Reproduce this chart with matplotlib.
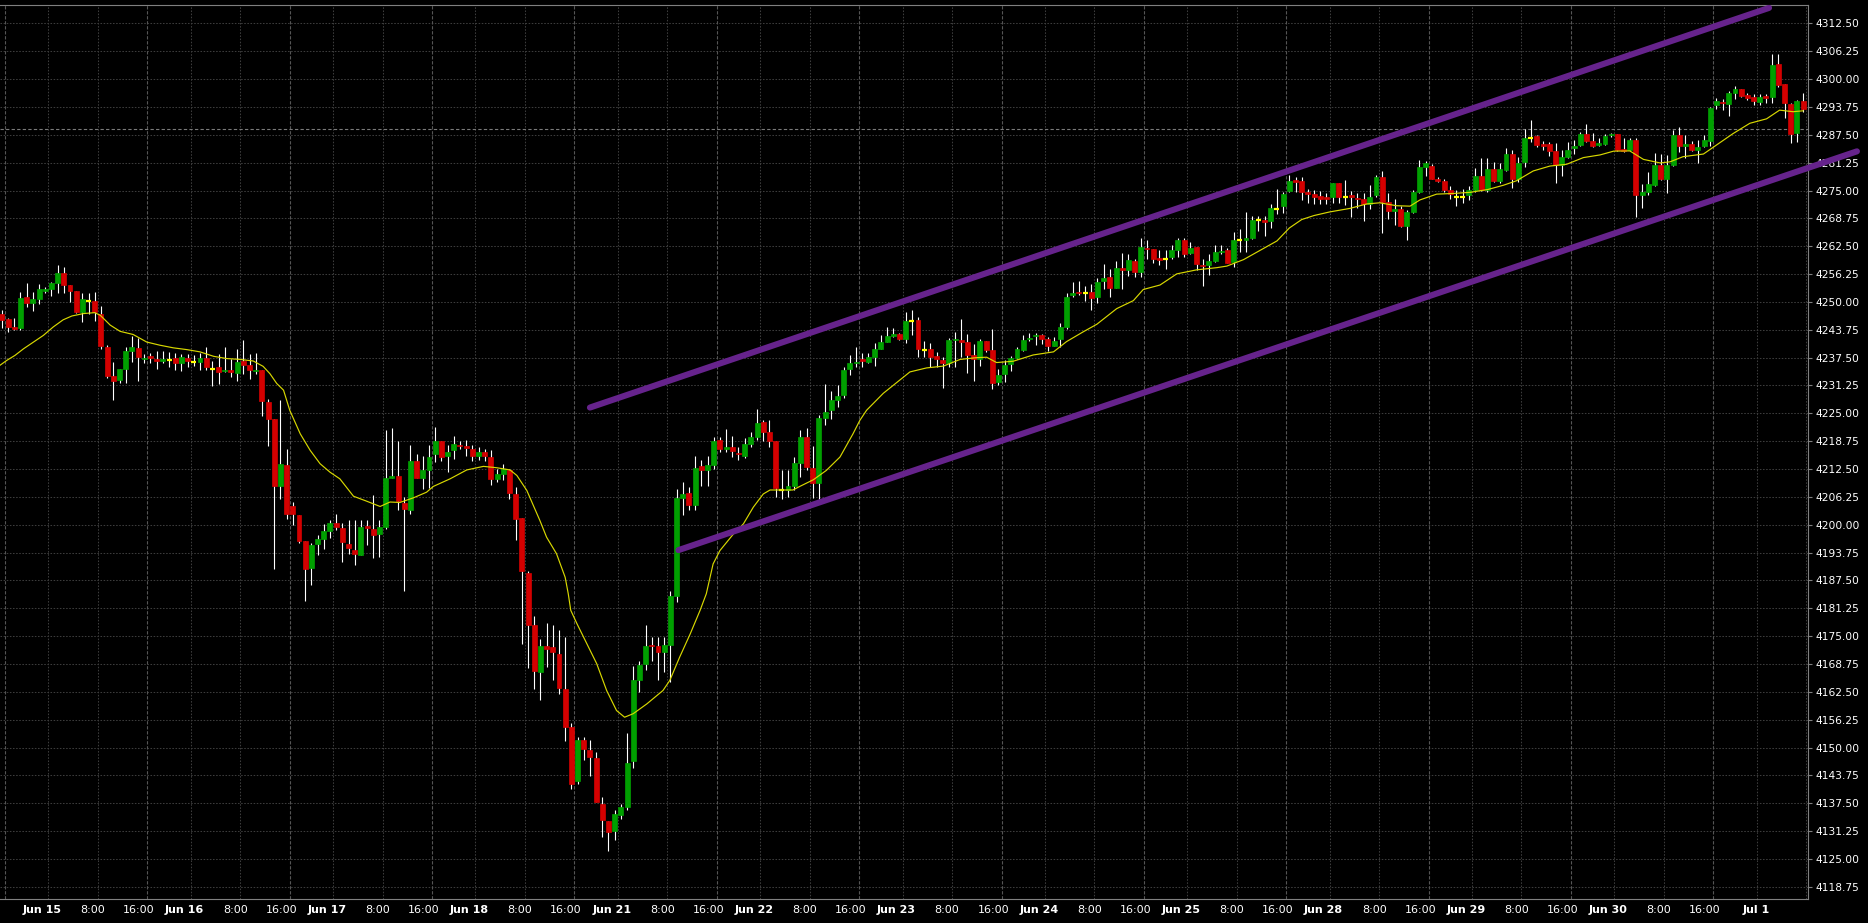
import numpy as np
import matplotlib
matplotlib.use("Agg")
import matplotlib.pyplot as plt

# hourly candles, bar 0 is the last hour of Jun 14, then 23 bars per trading day
opens = [
    4247.2, 4246.1, 4244.3, 4244.2, 4251.1, 4249.8, 4250.6, 4252.5, 4252.9, 4254.3,
    4256.5, 4253.8, 4252.5, 4247.8, 4250.3, 4250.3, 4247.3, 4240.0, 4233.4, 4232.4,
    4234.9, 4238.9, 4239.7, 4237.1, 4237.8, 4237.2, 4236.8, 4237.0, 4237.4, 4236.3,
    4237.4, 4236.5, 4236.5, 4237.4, 4235.0, 4235.4, 4234.5, 4234.8, 4234.1, 4236.7,
    4235.9, 4234.5, 4234.7, 4227.5, 4223.7, 4208.7, 4213.3, 4204.1, 4202.1, 4196.4,
    4190.3, 4195.6, 4196.9, 4198.7, 4200.3, 4199.2, 4195.7, 4194.4, 4193.3, 4199.7,
    4199.0, 4198.0, 4199.5, 4210.6, 4210.9, 4204.9, 4203.4, 4214.2, 4210.4, 4212.3,
    4215.9, 4218.7, 4215.4, 4216.7, 4218.0, 4217.6, 4217.0, 4215.5, 4216.4, 4215.3,
    4210.2, 4211.3, 4212.2, 4206.9, 4201.5, 4189.2, 4177.4, 4166.9, 4172.8, 4172.5,
    4171.0, 4163.2, 4154.6, 4142.5, 4151.6, 4149.5, 4147.7, 4137.4, 4133.6, 4131.2,
    4134.9, 4136.6, 4146.9, 4165.2, 4168.8, 4173.1, 4172.8, 4171.4, 4173.1, 4183.9,
    4206.0, 4207.2, 4204.5, 4213.1, 4212.3, 4213.5, 4219.1, 4216.9, 4217.4, 4216.1,
    4215.5, 4218.2, 4219.8, 4223.0, 4220.8, 4218.7, 4207.7, 4207.7, 4208.6, 4213.8,
    4219.8, 4212.8, 4209.3, 4223.9, 4225.8, 4228.0, 4229.2, 4234.9, 4236.2, 4237.3,
    4236.6, 4237.7, 4239.4, 4241.1, 4242.4, 4242.8, 4241.7, 4245.8, 4245.9, 4239.2,
    4239.4, 4237.9, 4237.0, 4236.2, 4241.4, 4241.5, 4241.1, 4238.2, 4237.1, 4241.3,
    4239.3, 4232.1, 4233.9, 4236.0, 4237.5, 4239.3, 4241.6, 4242.3, 4242.6, 4241.7,
    4240.2, 4241.6, 4244.3, 4251.6, 4252.2, 4252.0, 4252.2, 4251.2, 4254.8, 4255.6,
    4253.2, 4257.7, 4257.1, 4259.3, 4256.7, 4262.1, 4261.9, 4259.8, 4259.7, 4260.2,
    4261.6, 4263.9, 4261.0, 4262.3, 4258.4, 4258.2, 4259.1, 4261.3, 4261.7, 4258.9,
    4263.8, 4263.8, 4264.4, 4268.3, 4268.4, 4268.1, 4270.9, 4271.5, 4274.8, 4277.3,
    4277.1, 4274.6, 4274.2, 4273.8, 4273.5, 4273.6, 4276.7, 4273.6, 4274.0, 4273.4,
    4273.1, 4272.0, 4273.9, 4278.0, 4272.4, 4270.4, 4270.8, 4267.1, 4270.3, 4274.7,
    4280.4, 4280.5, 4277.5, 4277.1, 4275.1, 4273.6, 4273.6, 4274.0, 4275.1, 4278.3,
    4275.1, 4279.8, 4277.1, 4279.6, 4283.2, 4277.6, 4281.3, 4286.8, 4287.2, 4285.4,
    4285.4, 4283.9, 4280.7, 4282.6, 4284.6, 4285.2, 4287.8, 4286.1, 4285.3, 4285.4,
    4287.4, 4287.7, 4284.3, 4284.1, 4286.3, 4274.0, 4274.6, 4276.2, 4280.7, 4277.6,
    4280.7, 4287.5, 4285.1, 4285.4, 4284.1, 4285.0, 4286.2, 4294.2, 4294.9, 4294.4,
    4296.8, 4297.8, 4296.4, 4296.0, 4294.9, 4296.2, 4296.1, 4303.4, 4298.9, 4294.4,
    4288.0, 4295.1,
]
highs = [
    4248.3, 4246.5, 4246.3, 4252.3, 4254.3, 4252.3, 4254.0, 4253.4, 4254.5, 4258.3,
    4257.9, 4253.8, 4252.5, 4252.0, 4252.0, 4252.3, 4249.0, 4240.3, 4236.5, 4235.0,
    4239.9, 4242.3, 4241.9, 4238.4, 4238.5, 4239.0, 4239.0, 4238.8, 4238.5, 4238.4,
    4238.4, 4238.0, 4238.5, 4240.0, 4236.8, 4238.3, 4239.9, 4237.3, 4239.5, 4241.4,
    4238.4, 4238.5, 4234.7, 4228.3, 4223.7, 4227.9, 4216.9, 4205.1, 4202.1, 4196.4,
    4196.0, 4197.8, 4200.1, 4201.1, 4202.3, 4200.3, 4201.1, 4201.1, 4201.1, 4201.0,
    4206.6, 4201.0, 4221.3, 4221.6, 4218.8, 4206.2, 4218.0, 4215.8, 4215.5, 4218.0,
    4221.9, 4218.7, 4217.8, 4219.9, 4218.9, 4219.1, 4218.0, 4217.4, 4217.0, 4216.7,
    4212.6, 4213.7, 4212.6, 4208.4, 4201.5, 4189.7, 4179.6, 4174.4, 4177.9, 4177.4,
    4176.4, 4174.8, 4155.5, 4152.3, 4152.3, 4151.6, 4149.0, 4138.9, 4133.6, 4135.9,
    4137.4, 4153.2, 4168.4, 4169.5, 4177.4, 4174.8, 4174.8, 4174.8, 4185.1, 4208.1,
    4209.6, 4208.4, 4215.5, 4214.6, 4215.5, 4219.8, 4219.7, 4221.4, 4220.0, 4217.4,
    4219.5, 4220.8, 4226.0, 4223.4, 4223.5, 4218.7, 4212.3, 4212.3, 4215.3, 4221.2,
    4221.7, 4217.6, 4224.7, 4231.6, 4230.1, 4231.3, 4235.5, 4238.1, 4240.0, 4238.5,
    4238.5, 4240.7, 4242.6, 4244.4, 4244.2, 4243.1, 4247.8, 4248.2, 4246.7, 4241.3,
    4240.7, 4238.8, 4237.7, 4242.0, 4243.3, 4246.2, 4242.7, 4240.5, 4241.6, 4241.3,
    4244.0, 4235.0, 4236.9, 4237.8, 4239.9, 4242.6, 4243.1, 4243.1, 4242.8, 4242.2,
    4242.1, 4245.2, 4252.0, 4254.4, 4254.6, 4253.5, 4254.1, 4255.3, 4258.5, 4257.4,
    4259.1, 4261.0, 4260.8, 4259.7, 4264.3, 4263.9, 4261.9, 4261.6, 4261.7, 4262.7,
    4264.3, 4264.3, 4263.4, 4262.3, 4259.7, 4260.8, 4262.7, 4262.8, 4262.1, 4265.8,
    4266.4, 4270.1, 4269.4, 4269.4, 4269.4, 4272.0, 4275.4, 4274.6, 4278.4, 4278.0,
    4278.0, 4275.4, 4275.1, 4274.8, 4274.4, 4276.7, 4276.7, 4277.4, 4274.8, 4274.5,
    4274.4, 4276.2, 4278.5, 4279.4, 4274.5, 4273.2, 4271.5, 4270.6, 4275.1, 4281.8,
    4281.7, 4280.9, 4278.1, 4277.7, 4276.1, 4275.1, 4275.3, 4276.1, 4280.1, 4282.4,
    4282.2, 4281.5, 4281.2, 4284.5, 4284.1, 4282.6, 4288.9, 4290.8, 4287.5, 4286.2,
    4286.0, 4285.7, 4284.1, 4286.0, 4286.3, 4288.2, 4289.9, 4288.0, 4286.7, 4287.7,
    4288.0, 4287.8, 4286.7, 4286.9, 4286.9, 4276.4, 4279.1, 4283.5, 4283.3, 4283.0,
    4288.7, 4289.2, 4287.5, 4286.2, 4286.3, 4287.5, 4293.7, 4295.8, 4295.5, 4297.4,
    4298.4, 4297.8, 4296.9, 4296.7, 4296.7, 4296.7, 4305.6, 4305.6, 4298.9, 4294.6,
    4295.3, 4296.8,
]
lows = [
    4244.2, 4243.3, 4243.8, 4243.8, 4248.9, 4248.0, 4249.6, 4252.0, 4251.4, 4252.0,
    4251.9, 4250.0, 4247.5, 4245.5, 4247.4, 4245.8, 4239.5, 4233.0, 4227.9, 4231.7,
    4231.7, 4236.5, 4232.3, 4236.2, 4236.4, 4235.0, 4236.3, 4235.4, 4234.7, 4234.5,
    4235.3, 4235.6, 4234.8, 4234.7, 4231.2, 4231.5, 4234.3, 4233.1, 4232.3, 4233.9,
    4232.8, 4233.9, 4224.5, 4217.6, 4190.1, 4205.8, 4201.4, 4199.9, 4196.0, 4182.8,
    4186.5, 4193.3, 4194.6, 4197.1, 4198.8, 4191.6, 4193.5, 4191.0, 4193.1, 4195.4,
    4192.6, 4192.8, 4199.1, 4210.6, 4203.2, 4185.1, 4202.5, 4210.6, 4208.0, 4208.3,
    4214.0, 4214.4, 4211.8, 4214.8, 4217.0, 4215.5, 4214.4, 4214.6, 4214.4, 4209.0,
    4209.6, 4210.0, 4205.8, 4196.6, 4173.3, 4167.9, 4163.2, 4160.7, 4168.0, 4165.2,
    4162.0, 4151.4, 4140.6, 4141.9, 4147.1, 4143.7, 4137.8, 4130.0, 4126.7, 4129.3,
    4134.0, 4135.9, 4145.4, 4162.4, 4167.3, 4169.5, 4165.2, 4166.9, 4164.7, 4182.6,
    4202.1, 4203.4, 4203.2, 4208.8, 4208.7, 4212.6, 4216.3, 4216.4, 4215.3, 4214.6,
    4215.0, 4217.4, 4219.1, 4218.9, 4217.4, 4206.2, 4205.7, 4206.2, 4207.7, 4210.7,
    4212.2, 4206.0, 4205.8, 4222.3, 4223.8, 4226.4, 4228.5, 4233.6, 4235.5, 4235.3,
    4236.2, 4235.7, 4239.4, 4241.1, 4242.2, 4241.5, 4240.9, 4242.6, 4237.6, 4237.6,
    4235.5, 4235.5, 4230.6, 4235.5, 4235.5, 4237.7, 4234.1, 4232.2, 4235.7, 4238.7,
    4230.5, 4231.3, 4232.0, 4234.6, 4237.2, 4239.1, 4241.3, 4240.4, 4240.6, 4239.1,
    4240.1, 4239.9, 4244.0, 4251.1, 4251.5, 4250.3, 4248.1, 4249.8, 4253.0, 4251.2,
    4253.1, 4253.0, 4255.9, 4255.6, 4255.6, 4259.7, 4258.8, 4258.2, 4257.4, 4259.7,
    4260.0, 4260.1, 4260.8, 4257.2, 4253.5, 4256.1, 4258.9, 4260.8, 4258.7, 4257.8,
    4261.2, 4261.3, 4264.2, 4266.0, 4264.9, 4266.5, 4269.8, 4270.0, 4274.7, 4274.7,
    4272.8, 4272.1, 4271.9, 4271.9, 4271.9, 4272.3, 4272.3, 4271.8, 4269.1, 4271.0,
    4268.2, 4270.9, 4273.6, 4265.5, 4268.6, 4267.2, 4266.9, 4263.9, 4270.0, 4274.5,
    4278.3, 4277.5, 4277.0, 4274.7, 4273.2, 4271.5, 4272.3, 4272.9, 4274.7, 4274.9,
    4274.7, 4277.0, 4276.6, 4279.4, 4275.5, 4277.0, 4280.4, 4286.0, 4284.8, 4284.1,
    4282.8, 4276.6, 4278.3, 4282.4, 4283.1, 4285.0, 4286.0, 4284.8, 4285.0, 4285.2,
    4287.1, 4283.9, 4283.7, 4283.9, 4269.1, 4271.0, 4274.0, 4276.1, 4277.4, 4274.4,
    4280.5, 4283.7, 4282.4, 4283.9, 4281.1, 4284.8, 4285.0, 4293.4, 4293.1, 4291.7,
    4295.5, 4296.1, 4295.3, 4294.2, 4294.2, 4294.6, 4294.6, 4298.3, 4291.2, 4285.7,
    4286.0, 4292.7,
]
closes = [
    4246.0, 4244.4, 4243.9, 4250.8, 4249.8, 4250.6, 4252.9, 4252.8, 4254.3, 4256.5,
    4253.8, 4252.5, 4247.8, 4250.6, 4250.3, 4247.8, 4240.1, 4233.4, 4232.3, 4234.9,
    4238.9, 4239.9, 4237.7, 4237.4, 4237.4, 4236.8, 4237.2, 4237.0, 4236.3, 4237.6,
    4236.8, 4236.5, 4237.4, 4235.3, 4235.0, 4234.3, 4234.8, 4234.3, 4236.5, 4235.9,
    4234.7, 4234.8, 4227.8, 4223.7, 4208.7, 4213.6, 4202.5, 4202.5, 4196.4, 4190.1,
    4195.4, 4196.7, 4198.7, 4200.5, 4199.5, 4196.1, 4194.8, 4193.4, 4199.6, 4199.3,
    4197.8, 4199.5, 4210.6, 4210.9, 4205.3, 4203.5, 4214.2, 4210.6, 4212.3, 4215.3,
    4218.8, 4215.2, 4216.4, 4218.2, 4217.6, 4217.2, 4215.4, 4216.4, 4215.4, 4210.2,
    4211.3, 4212.4, 4207.1, 4201.3, 4189.6, 4177.5, 4167.1, 4172.8, 4172.2, 4171.4,
    4163.4, 4154.6, 4141.9, 4151.6, 4149.7, 4147.9, 4137.8, 4133.8, 4131.0, 4135.1,
    4136.6, 4146.5, 4165.1, 4168.6, 4172.8, 4172.8, 4171.4, 4173.1, 4183.9, 4206.0,
    4207.0, 4204.5, 4212.8, 4212.3, 4213.5, 4218.8, 4216.9, 4217.4, 4216.5, 4215.8,
    4218.2, 4219.8, 4222.9, 4220.8, 4218.8, 4208.2, 4207.7, 4208.6, 4213.8, 4219.8,
    4212.9, 4209.3, 4223.9, 4225.4, 4228.0, 4229.0, 4234.7, 4236.4, 4236.6, 4236.8,
    4237.7, 4239.4, 4241.1, 4242.4, 4242.8, 4241.6, 4245.7, 4245.8, 4239.4, 4239.2,
    4237.7, 4237.3, 4236.4, 4241.5, 4241.6, 4241.1, 4238.1, 4237.1, 4241.3, 4239.3,
    4231.8, 4233.6, 4235.9, 4237.4, 4239.5, 4241.5, 4241.9, 4242.6, 4241.6, 4240.2,
    4241.3, 4244.3, 4251.1, 4252.0, 4251.9, 4252.0, 4250.9, 4254.4, 4255.3, 4253.2,
    4257.7, 4257.1, 4259.4, 4256.7, 4262.4, 4261.8, 4259.7, 4259.5, 4259.7, 4261.6,
    4263.9, 4260.8, 4262.1, 4258.5, 4258.1, 4259.1, 4261.3, 4261.5, 4258.8, 4263.9,
    4263.8, 4264.4, 4268.4, 4268.3, 4268.0, 4271.1, 4270.9, 4274.3, 4277.1, 4276.9,
    4274.7, 4274.2, 4273.6, 4273.2, 4273.1, 4276.7, 4273.6, 4273.6, 4273.6, 4273.1,
    4272.0, 4273.5, 4278.0, 4272.5, 4270.4, 4270.8, 4267.1, 4270.2, 4274.7, 4280.3,
    4281.1, 4277.6, 4277.2, 4275.1, 4274.2, 4273.6, 4273.6, 4275.1, 4278.3, 4275.1,
    4279.8, 4277.1, 4279.8, 4283.2, 4277.6, 4281.1, 4286.7, 4286.8, 4285.2, 4285.1,
    4283.9, 4280.7, 4282.6, 4284.1, 4284.9, 4287.6, 4286.2, 4285.1, 4285.6, 4287.3,
    4287.7, 4284.1, 4283.9, 4286.3, 4274.0, 4274.6, 4276.5, 4280.7, 4277.6, 4280.7,
    4287.5, 4285.0, 4285.4, 4284.1, 4284.7, 4286.3, 4293.6, 4295.1, 4294.6, 4296.8,
    4297.8, 4296.3, 4295.8, 4295.2, 4296.0, 4295.8, 4303.2, 4298.7, 4294.6, 4287.8,
    4295.1, 4293.4,
]

# moving average (bar position, value)
ma_bar = [
    -0.3, 0.8, 2.1, 3.5, 5.1, 6.7, 8.3, 9.9, 11.3, 13.2, 15.0, 15.9, 17.5, 19.1,
    21.2, 23.4, 25.5, 27.7, 29.9, 32.0, 34.2, 36.3, 38.5, 40.6, 42.2, 43.3, 44.4,
    45.5, 46.5, 48.2, 49.8, 51.4, 53.0, 54.6, 56.8, 58.9, 61.1, 62.7, 64.3, 66.5,
    68.6, 69.7, 72.4, 75.1, 77.8, 79.9, 82.1, 83.2, 84.8, 86.9, 88.0, 89.6, 91.0,
    91.5, 91.9, 92.9, 94.5, 96.1, 97.7, 99.3, 100.6, 102.0, 104.2, 106.8, 107.9,
    109.5, 111.2, 112.8, 113.8, 114.9, 116.0, 118.2, 119.8, 121.4, 123.0, 124.1,
    127.8, 128.9, 131.1, 133.2, 135.4, 137.5, 138.6, 139.7, 142.4, 145.1, 146.7,
    149.4, 152.1, 154.8, 157.5, 159.1, 160.7, 163.4, 166.6, 169.9, 172.0, 174.7,
    176.9, 180.1, 182.8, 184.4, 187.1, 189.8, 193.0, 196.3, 197.9, 200.6, 203.3,
    206.0, 208.0, 210.0, 212.0, 214.5, 217.8, 220.5, 222.6, 225.3, 227.5, 229.1,
    231.8, 234.5, 237.2, 240.1, 242.6, 244.7, 247.4, 250.1, 252.8, 255.5, 258.2,
    260.4, 263.0, 265.2, 267.9, 269.5, 271.6, 274.9, 277.0, 279.7, 282.4, 285.1,
    287.2, 289.4, 291.0,
]
ma_val = [
    4235.8, 4236.9, 4238.0, 4239.5, 4241.0, 4242.5, 4244.4, 4246.0, 4246.85, 4247.4,
    4247.6, 4247.0, 4244.8, 4243.4, 4242.7, 4241.0, 4240.3, 4239.7, 4239.3, 4238.8,
    4237.8, 4237.3, 4237.1, 4236.75, 4235.55, 4233.9, 4231.7, 4230.2, 4225.7, 4220.4,
    4216.7, 4213.7, 4211.8, 4210.3, 4206.4, 4205.3, 4204.1, 4205.1, 4205.0, 4206.05,
    4207.3, 4208.6, 4210.3, 4212.3, 4213.1, 4212.8, 4212.3, 4211.05, 4207.7, 4201.0,
    4197.2, 4193.5, 4188.2, 4184.5, 4180.8, 4177.8, 4173.3, 4168.8, 4162.8, 4158.3,
    4156.8, 4157.6, 4159.8, 4162.8, 4165.05, 4170.3, 4175.5, 4180.8, 4184.5, 4191.2,
    4194.2, 4197.95, 4200.2, 4203.95, 4206.9, 4207.8, 4207.8, 4208.6, 4210.1, 4212.2,
    4215.2, 4220.4, 4223.4, 4225.7, 4229.5, 4232.5, 4234.3, 4235.2, 4235.6, 4237.1,
    4237.5, 4237.6, 4236.4, 4236.7, 4238.1, 4238.8, 4241.1, 4243.3, 4245.0, 4248.5,
    4250.3, 4252.8, 4253.8, 4256.3, 4257.2, 4257.7, 4258.05, 4259.5, 4261.6, 4263.7,
    4266.6, 4268.5, 4269.4, 4270.2, 4271.0, 4272.0, 4272.25, 4271.6, 4271.5, 4272.9,
    4274.2, 4274.35, 4274.6, 4275.25, 4276.2, 4277.2, 4279.4, 4280.5, 4280.9, 4282.4,
    4283.0, 4283.85, 4283.9, 4282.0, 4281.2, 4281.45, 4282.6, 4283.2, 4285.2, 4287.8,
    4290.1, 4291.1, 4293.05, 4292.7, 4292.9,
]

day_labels = ["Jun 15", "Jun 16", "Jun 17", "Jun 18", "Jun 21", "Jun 22", "Jun 23",
              "Jun 24", "Jun 25", "Jun 28", "Jun 29", "Jun 30", "Jul 1"]
hour_labels = ["8:00", "16:00"]

# channel lines (bar, price)
upper_x = [95.0, 285.5]
upper_y = [4226.3, 4316.0]
lower_x = [109.3, 299.7]
lower_y = [4194.3, 4283.8]

level_price = 4288.9

GREEN = "#00a000"
RED = "#d40000"
DOJI = "#ffff00"
PURPLE = "#66238c"

fig = plt.figure(figsize=(18.68, 9.23), dpi=100, facecolor="black")
ax = fig.add_axes([0.0, 0.0255, 0.9679, 0.9691])
ax.set_facecolor("black")

o = np.array(opens)
h = np.array(highs)
l = np.array(lows)
c = np.array(closes)
x = np.arange(len(o))

x0, x1 = -0.31, 291.8
ax.set_xlim(x0, x1)
ax.set_ylim(4115.9, 4316.65)

# horizontal grid
yt = 4118.75 + 6.25 * np.arange(32)
for yv in yt:
    ax.axhline(yv, color="#3c3c3c", lw=0.75, ls=(0, (1.5, 1.5)), zorder=0)

# vertical grid + time labels (labels sit to the right of their line)
for d, lab in enumerate(day_labels):
    start = 1 + 23 * d
    pos = [start - 0.5, start + 6.5, start + 14.5]
    texts = [lab] + hour_labels
    for k, (p, t) in enumerate(zip(pos, texts)):
        if k == 0:
            ax.axvline(p, color="#555555", lw=0.8, ls=(0, (3, 1.5)), zorder=0)
        else:
            ax.axvline(p, color="#3c3c3c", lw=0.75, ls=(0, (1.5, 1.5)), zorder=0)
        if p + 9.2 < x1:
            ax.annotate(t, xy=(p + 9.2, 0), xycoords=("data", "axes fraction"),
                        xytext=(0, -7.6), textcoords="offset points",
                        ha="right", va="center", color="white",
                        fontsize=8, fontweight="bold" if k == 0 else "normal",
                        annotation_clip=False)

ax.axhline(level_price, color="#7a7a7a", lw=0.8, ls=(0, (3, 2)), zorder=1)

# candles
ax.vlines(x, l, h, color="white", lw=0.8, zorder=2)
up = c > o
dn = c < o
dj = c == o
ax.bar(x[up], (c - o)[up], bottom=o[up], width=0.8, color=GREEN,
       edgecolor=GREEN, linewidth=0.5, zorder=3)
ax.bar(x[dn], (o - c)[dn], bottom=c[dn], width=0.8, color=RED,
       edgecolor=RED, linewidth=0.5, zorder=3)
ax.hlines(o[dj], x[dj] - 0.4, x[dj] + 0.4, color=DOJI, lw=1.6, zorder=3)

ax.plot(ma_bar, ma_val, color="#d8d800", lw=0.85, zorder=4)

ax.plot(upper_x, upper_y, color=PURPLE, lw=4.4, solid_capstyle="round", zorder=5)
ax.plot(lower_x, lower_y, color=PURPLE, lw=4.4, solid_capstyle="round", zorder=5,
        clip_on=False)

# axes frame and price scale
for s in ["top", "right", "bottom"]:
    ax.spines[s].set_color("#808080")
    ax.spines[s].set_linewidth(0.8)
ax.spines["left"].set_visible(False)
ax.set_xticks([])
ax.yaxis.tick_right()
ax.set_yticks(yt)
ax.set_yticklabels([f"{v:.2f}" for v in yt])
ax.tick_params(axis="y", color="#808080", labelcolor="white", length=3,
               width=0.8, pad=2.5, labelsize=7.7)

fig.savefig("out.png", dpi=100, facecolor="black")
